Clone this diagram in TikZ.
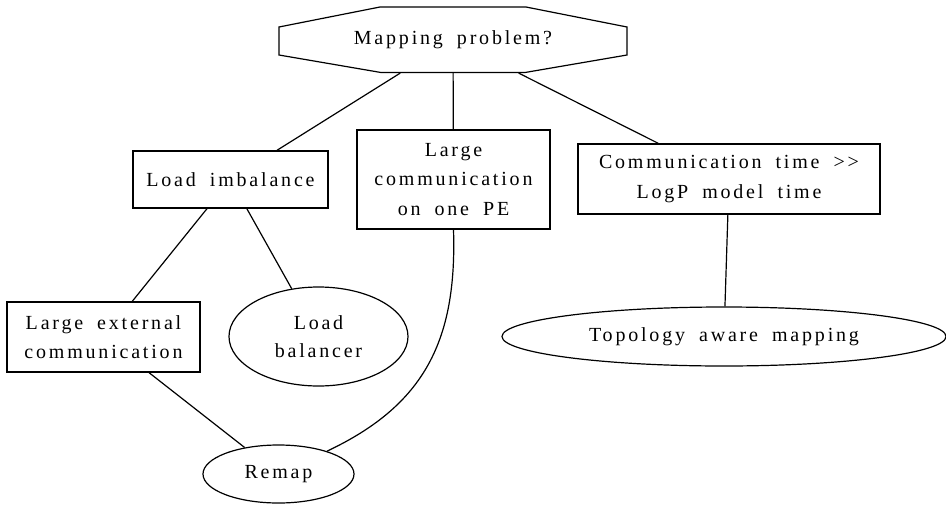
\documentclass[tikz,border=0pt]{standalone}
\usepackage{fontspec}
\setmainfont[LetterSpace=14, WordSpace=1.8]{Liberation Serif}
\usetikzlibrary{calc,positioning,shapes}
\tikzstyle{BoxNode} = [rectangle, draw, inner sep=0pt, align=center,
    font=\fontsize{20}{29.5}\selectfont]
\tikzstyle{EllNode} = [ellipse, draw, inner sep=0pt, align=center,
    font=\fontsize{20}{28}\selectfont]
\tikzstyle{edge} = [line width=1.2pt]

\begin{document}
\begin{tikzpicture}[x=1pt, y=-1pt, line width=1.2pt]
        \useasboundingbox (0,0) rectangle (946,504);
        \node[minimum width=348, minimum height=65, inner sep=0pt,
            font=\fontsize{20}{29.5}\selectfont] (Problem) at (453,40) {Mapping problem?};
        %octagon round the question
        \draw ($(Problem.center)+(-73,-33)$) -- ($(Problem.center)+(73,-33)$)
            -- ($(Problem.center)+(174,-13)$) -- ($(Problem.center)+(174,15)$)
            -- ($(Problem.center)+(72,32.5)$) -- ($(Problem.center)+(-72,32.5)$)
            -- ($(Problem.center)+(-174,15)$) -- ($(Problem.center)+(-174,-13)$) -- cycle;
        \node[BoxNode, minimum width=195, minimum height=57] (LoadImb) at (230.5,179.5) {Load imbalance};
        \node[BoxNode, minimum width=193, minimum height=99] (LargePE) at (453.5,179.5) {Large\\communication\\on one PE};
        \node[BoxNode, minimum width=302, minimum height=70] (CommTime) at (729,179) {Communication time >{}>\\LogP model time};
        \node[BoxNode, minimum width=193, minimum height=70] (LargeExt) at (103.5,337) {Large external\\communication};
        \node[EllNode, minimum width=179, minimum height=99] (LoadBal) at (318.5,336.5) {Load\\balancer};
        \node[EllNode, minimum width=151, minimum height=58] (Remap) at (278.5,474) {Remap};
        \node[EllNode, minimum width=444, minimum height=59] (Topology) at (724,336.5) {Topology aware mapping};
        \draw [edge] (Problem) -- (LoadImb);
        \draw [edge] (Problem) -- (LargePE);
        \draw [edge] (Problem) -- (CommTime);
        \draw [edge] (LoadImb) -- (LargeExt);
        \draw [edge] (LoadImb) -- (LoadBal);
        \draw [edge] (LargeExt) -- (Remap);
        \draw [edge] (LargePE.south) .. controls (457,340) and (425,405) .. (Remap);
        \draw [edge] (CommTime) -- (Topology);
    \end{tikzpicture}
\end{document}
